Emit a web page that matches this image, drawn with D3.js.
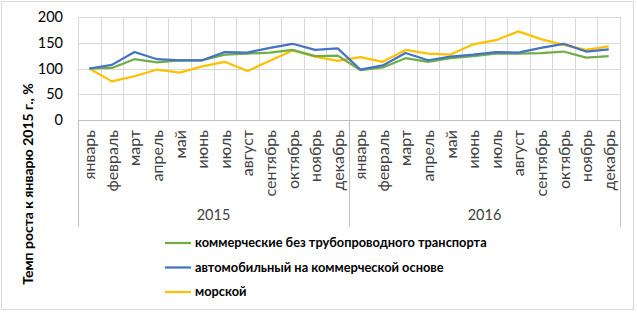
<!DOCTYPE html>
<html>
<head>
<meta charset="utf-8">
<script src="https://cdn.jsdelivr.net/npm/d3@7"></script>
<style>
  body { margin: 0; background: #fff; }
  svg { font-family: Lato, "Open Sans", sans-serif; }
</style>
</head>
<body>
<div class="chart"></div>
<script>
const months = ["январь","февраль","март","апрель","май","июнь","июль","август","сентябрь","октябрь","ноябрь","декабрь"];
const years = ["2015", "2016"];
const yTicks = [0, 50, 100, 150, 200];

const seriesNames = [
  "коммерческие без трубопроводного транспорта",
  "автомобильный на коммерческой основе",
  "морской"
];
const commercial = [100,101,118,112,116,116,127,129,131,136,124,125, 97,102,120,113,120,124,129,129,130,133,121,124];
const auto       = [100,107,132,118,116,116,132,131,140,148,136,139, 98,106,130,116,123,127,132,131,140,148,133,137];
const sea        = [100, 75, 85, 98, 92,104,113, 95,115,135,123,115,122,113,136,129,127,147,155,172,157,146,136,143];
const colors = ["#70AD47", "#4472C4", "#FFC000"];

function load() {
  const width = 637, height = 312;
  const left = 78, right = 620, top = 17, bottom = 120;

  const cats = [];
  years.forEach(y => months.forEach(m => cats.push(y + "-" + m)));

  const svg = d3.select(".chart").append("svg")
    .attr("width", width).attr("height", height);

  // outer frame
  svg.append("rect")
    .attr("x", 1.5).attr("y", 1.5)
    .attr("width", width - 5).attr("height", height - 4)
    .attr("fill", "none").attr("stroke", "#d9d9d9");

  const x = d3.scaleBand().domain(cats).range([left, right]);
  const y = d3.scaleLinear().domain([0, 200]).range([bottom, top]);

  // horizontal grid
  svg.append("g").selectAll("line")
    .data(yTicks).enter().append("line")
    .attr("x1", left).attr("x2", right)
    .attr("y1", d => Math.round(y(d)) + 0.5).attr("y2", d => Math.round(y(d)) + 0.5)
    .attr("stroke", "#d9d9d9");

  // vertical grid at category boundaries
  const bounds = cats.map(c => x(c)).concat([right]);
  svg.append("g").selectAll("line")
    .data(bounds).enter().append("line")
    .attr("x1", d => Math.round(d) + 0.5).attr("x2", d => Math.round(d) + 0.5)
    .attr("y1", top).attr("y2", bottom)
    .attr("stroke", "#d9d9d9");

  // category axis frame
  svg.append("line")
    .attr("x1", left).attr("x2", right)
    .attr("y1", bottom + 0.5).attr("y2", bottom + 0.5)
    .attr("stroke", "#bfbfbf");
  const groupEdges = [left, x(years[1] + "-" + months[0]), right];
  svg.append("g").selectAll("line")
    .data(groupEdges).enter().append("line")
    .attr("x1", d => Math.round(d) + 0.5).attr("x2", d => Math.round(d) + 0.5)
    .attr("y1", bottom).attr("y2", 227)
    .attr("stroke", "#bfbfbf");

  // y tick labels
  svg.append("g").selectAll("text")
    .data(yTicks).enter().append("text")
    .attr("x", 63).attr("y", d => y(d))
    .attr("dy", "0.36em")
    .attr("text-anchor", "end")
    .attr("font-size", 14.5)
    .attr("fill", "#000")
    .text(d => d);

  // month labels
  svg.append("g").selectAll("text")
    .data(cats).enter().append("text")
    .attr("transform", d => "translate(" + (x(d) + x.bandwidth() / 2 + 6) + "," + 130 + ") rotate(-90)")
    .attr("text-anchor", "end")
    .attr("font-size", 16)
    .attr("fill", "#404040")
    .text(d => d.split("-")[1]);

  // year labels
  svg.append("g").selectAll("text")
    .data(years).enter().append("text")
    .attr("x", (d, i) => (groupEdges[i] + groupEdges[i + 1]) / 2)
    .attr("y", 220)
    .attr("text-anchor", "middle")
    .attr("font-size", 14.5)
    .attr("fill", "#404040")
    .text(d => d);

  // y axis title
  svg.append("text")
    .attr("transform", "translate(33,184) rotate(-90)")
    .attr("text-anchor", "middle")
    .attr("font-size", 14)
    .attr("font-weight", "bold")
    .attr("fill", "#000")
    .text("Темп роста к январю 2015 г., %");

  // lines
  const line = d3.line()
    .x((d, i) => x(cats[i]) + x.bandwidth() / 2)
    .y(d => y(d));

  const data = [commercial, auto, sea];
  const order = [2, 0, 1];
  svg.append("g").selectAll("path")
    .data(order).enter().append("path")
    .attr("d", k => line(data[k]))
    .attr("fill", "none")
    .attr("stroke", k => colors[k])
    .attr("stroke-width", 2.25)
    .attr("stroke-linejoin", "round");

  // legend
  const lg = svg.append("g").selectAll("g")
    .data(seriesNames).enter().append("g")
    .attr("transform", (d, i) => "translate(165," + (243 + i * 24.5) + ")");
  lg.append("line")
    .attr("x1", 0).attr("x2", 26)
    .attr("stroke", (d, i) => colors[i])
    .attr("stroke-width", 2.25);
  lg.append("text")
    .attr("x", 30).attr("dy", "0.35em")
    .attr("font-size", 12.8)
    .attr("font-weight", "bold")
    .attr("fill", "#000")
    .text(d => d);
}

load();
</script>
</body>
</html>
